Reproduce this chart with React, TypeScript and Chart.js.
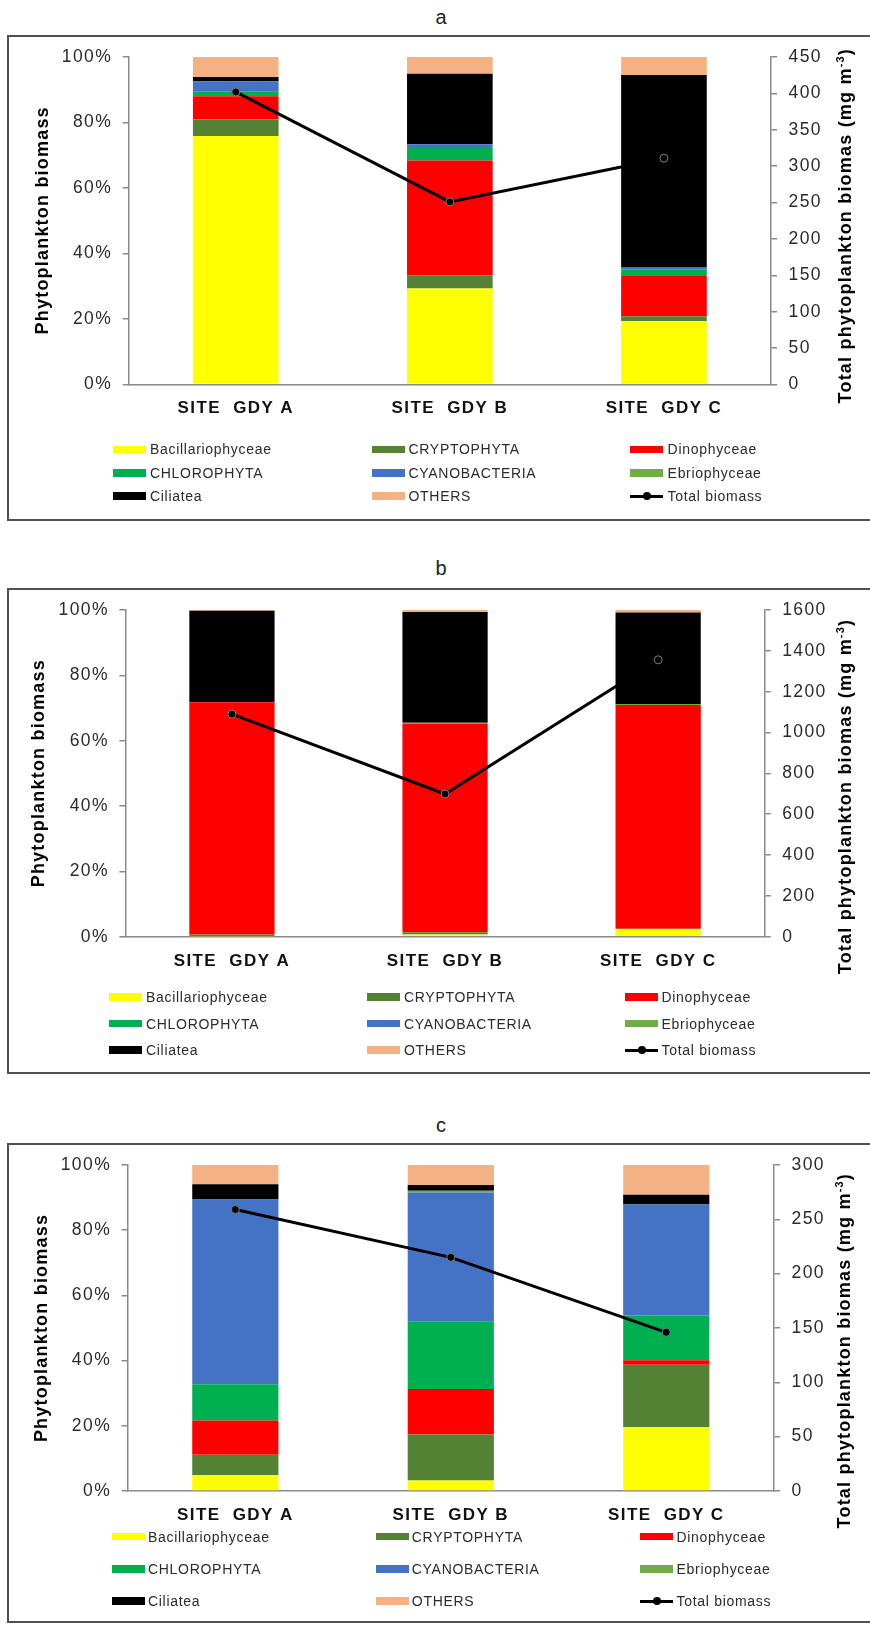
import React, { useEffect, useRef } from 'react';
import { Chart, registerables } from 'chart.js';

Chart.register(...registerables);

const FONT = '"Liberation Sans", Arial, Helvetica, sans-serif';

// ---------- shared labels ----------
const categories = ['SITE  GDY A', 'SITE  GDY B', 'SITE  GDY C'];
const seriesNames = ['Bacillariophyceae', 'CRYPTOPHYTA', 'Dinophyceae', 'CHLOROPHYTA', 'CYANOBACTERIA', 'Ebriophyceae', 'Ciliatea', 'OTHERS'];
const seriesColors = ['#FFFF00', '#548235', '#FF0000', '#00B050', '#4472C4', '#70AD47', '#000000', '#F4B183'];
const lineName = 'Total biomass';
const leftAxisTitle = 'Phytoplankton biomass';
const rightAxisTitleMain = 'Total phytoplankton biomas (mg m';
const rightAxisTitleSup = '-3';
const rightAxisTitleEnd = ')';
const percentMax = 100;
const percentStep = 20;

// ---------- panel a ----------
const a_Bacillariophyceae = [75.9, 29.3, 19.4];
const a_CRYPTOPHYTA = [5.0, 4.1, 1.5];
const a_Dinophyceae = [7.1, 35.0, 12.5];
const a_CHLOROPHYTA = [1.4, 3.8, 1.8];
const a_CYANOBACTERIA = [3.2, 1.2, 0.7];
const a_Ebriophyceae = [0.0, 0.0, 0.0];
const a_Ciliatea = [1.3, 21.5, 58.6];
const a_OTHERS = [6.1, 5.1, 5.5];
const a_Total = [402, 251, 311];
const a_rightMax = 450;
const a_rightStep = 50;

// ---------- panel b ----------
const b_Bacillariophyceae = [0.1, 0.7, 2.3];
const b_CRYPTOPHYTA = [0.6, 0.7, 0.1];
const b_Dinophyceae = [71.1, 63.8, 68.5];
const b_CHLOROPHYTA = [0.0, 0.0, 0.0];
const b_CYANOBACTERIA = [0.0, 0.0, 0.0];
const b_Ebriophyceae = [0.0, 0.3, 0.3];
const b_Ciliatea = [28.0, 33.9, 28.0];
const b_OTHERS = [0.2, 0.6, 0.8];
const b_Total = [1090, 699, 1356];
const b_rightMax = 1600;
const b_rightStep = 200;

// ---------- panel c ----------
const c_Bacillariophyceae = [4.8, 3.2, 19.5];
const c_CRYPTOPHYTA = [6.3, 14.1, 19.2];
const c_Dinophyceae = [10.5, 14.0, 1.4];
const c_CHLOROPHYTA = [11.1, 20.6, 13.7];
const c_CYANOBACTERIA = [56.7, 39.7, 34.1];
const c_Ebriophyceae = [0.0, 0.5, 0.0];
const c_Ciliatea = [4.7, 1.8, 3.0];
const c_OTHERS = [5.9, 6.1, 9.1];
const c_Total = [259, 215, 146];
const c_rightMax = 300;
const c_rightStep = 50;

type PanelData = { title: string; series: number[][]; totals: number[]; rightMax: number; rightStep: number };

const panelsData: PanelData[] = [
  { title: 'a', series: [a_Bacillariophyceae, a_CRYPTOPHYTA, a_Dinophyceae, a_CHLOROPHYTA, a_CYANOBACTERIA, a_Ebriophyceae, a_Ciliatea, a_OTHERS], totals: a_Total, rightMax: a_rightMax, rightStep: a_rightStep },
  { title: 'b', series: [b_Bacillariophyceae, b_CRYPTOPHYTA, b_Dinophyceae, b_CHLOROPHYTA, b_CYANOBACTERIA, b_Ebriophyceae, b_Ciliatea, b_OTHERS], totals: b_Total, rightMax: b_rightMax, rightStep: b_rightStep },
  { title: 'c', series: [c_Bacillariophyceae, c_CRYPTOPHYTA, c_Dinophyceae, c_CHLOROPHYTA, c_CYANOBACTERIA, c_Ebriophyceae, c_Ciliatea, c_OTHERS], totals: c_Total, rightMax: c_rightMax, rightStep: c_rightStep },
];

// ---------- layout (page pixels) ----------
type PanelLayout = {
  titleY: number; boxTop: number; boxBottom: number;
  plotTop: number; plotBottom: number; plotLeft: number; plotRight: number;
  leftTitle: [number, number]; rightTitle: [number, number];
  legendRows: number[]; swatchX: number[]; textX: number[];
};

const layouts: PanelLayout[] = [
  { titleY: 16.5, boxTop: 35, boxBottom: 521, plotTop: 56, plotBottom: 384.6, plotLeft: 128.7, plotRight: 771,
    leftTitle: [42.7, 220.3], rightTitle: [846, 225.7], legendRows: [449.4, 472.8, 496.2], swatchX: [112.6, 372, 630], textX: [150, 408.5, 667.6] },
  { titleY: 568, boxTop: 588, boxBottom: 1074, plotTop: 609.6, plotBottom: 936.7, plotLeft: 125.4, plotRight: 764.7,
    leftTitle: [38.8, 773.2], rightTitle: [846, 796.5], legendRows: [997, 1023.5, 1050], swatchX: [109, 367, 625], textX: [146, 404, 661.5] },
  { titleY: 1124.6, boxTop: 1143, boxBottom: 1623, plotTop: 1163.9, plotBottom: 1490.9, plotLeft: 127.6, plotRight: 774,
    leftTitle: [41.6, 1328], rightTitle: [845, 1350.7], legendRows: [1536.5, 1568.9, 1601.2], swatchX: [111.5, 375.7, 640], textX: [148, 411.8, 676.5] },
];

const PAGE_W = 870;
const AXIS_COLOR = '#8a8a8a';
const TEXT_COLOR = '#2b2b2b';

function PanelChart({ data, lay }: { data: PanelData; lay: PanelLayout }) {
  const ref = useRef<HTMLCanvasElement | null>(null);
  useEffect(() => {
    if (!ref.current) return;
    const titlesPlugin = {
      id: 'axisTitles',
      beforeLayout(chart: any) { chart.ctx.letterSpacing = '1.4px'; },
      beforeDraw(chart: any) { chart.ctx.letterSpacing = '1.4px'; },
      afterDraw(chart: any) {
        const ctx = chart.ctx;
        ctx.save();
        ctx.letterSpacing = '1.2px';
        ctx.fillStyle = '#000';
        ctx.font = `bold 18px ${FONT}`;
        ctx.translate(lay.leftTitle[0], lay.leftTitle[1] - lay.boxTop);
        ctx.rotate(-Math.PI / 2);
        ctx.textAlign = 'center';
        ctx.textBaseline = 'middle';
        ctx.fillText(leftAxisTitle, 0, 0);
        ctx.restore();

        ctx.save();
        ctx.letterSpacing = '1.2px';
        ctx.fillStyle = '#000';
        ctx.translate(lay.rightTitle[0], lay.rightTitle[1] - lay.boxTop);
        ctx.rotate(-Math.PI / 2);
        ctx.textAlign = 'left';
        ctx.textBaseline = 'middle';
        const mainFont = `bold 18px ${FONT}`;
        const supFont = `bold 11px ${FONT}`;
        ctx.font = mainFont;
        const w1 = ctx.measureText(rightAxisTitleMain).width;
        const w3 = ctx.measureText(rightAxisTitleEnd).width;
        ctx.font = supFont;
        const w2 = ctx.measureText(rightAxisTitleSup).width;
        let x = -(w1 + w2 + w3) / 2;
        ctx.font = mainFont;
        ctx.fillText(rightAxisTitleMain, x, 0);
        x += w1;
        ctx.font = supFont;
        ctx.fillText(rightAxisTitleSup, x, -5);
        x += w2;
        ctx.font = mainFont;
        ctx.fillText(rightAxisTitleEnd, x, 0);
        ctx.restore();
      },
    };

    const datasets: any[] = seriesNames.map((name, i) => ({
      type: 'bar',
      label: name,
      data: data.series[i],
      backgroundColor: seriesColors[i],
      borderWidth: 0,
      yAxisID: 'y',
      stack: 'biomass',
      order: 1,
      barPercentage: 0.4,
      categoryPercentage: 1.0,
    }));
    datasets.push({
      type: 'line',
      label: lineName,
      data: data.totals,
      yAxisID: 'y1',
      borderColor: '#000',
      borderWidth: 3,
      pointRadius: 4,
      pointBackgroundColor: '#000',
      pointBorderColor: '#808080',
      pointBorderWidth: 1,
      tension: 0,
      order: 0,
    });

    const chart = new Chart(ref.current, {
      type: 'bar',
      data: { labels: categories, datasets },
      options: {
        responsive: false,
        maintainAspectRatio: false,
        animation: false,
        layout: { padding: { top: lay.plotTop - lay.boxTop, left: 0, right: 0, bottom: 0 } },
        plugins: { legend: { display: false }, tooltip: { enabled: false }, title: { display: false } },
        scales: {
          x: {
            stacked: true,
            grid: { display: false, drawTicks: false },
            border: { display: true, color: AXIS_COLOR, width: 1.5 },
            ticks: { font: { family: FONT, size: 17, weight: 'bold' }, color: '#111', padding: 14, maxRotation: 0, autoSkip: false },
            afterFit: (s: any) => { s.height = lay.boxBottom - lay.plotBottom; },
          },
          y: {
            stacked: true,
            min: 0,
            max: percentMax,
            ticks: { stepSize: percentStep, callback: (v: any) => `${v}%`, font: { family: FONT, size: 17.5 }, color: TEXT_COLOR, padding: 10.5 },
            grid: { display: true, drawOnChartArea: false, drawTicks: true, tickLength: 6, color: AXIS_COLOR, lineWidth: 1.5 },
            border: { display: true, color: AXIS_COLOR, width: 1.5 },
            afterFit: (s: any) => { s.width = lay.plotLeft; },
          },
          y1: {
            position: 'right',
            min: 0,
            max: data.rightMax,
            ticks: { stepSize: data.rightStep, callback: (v: any) => String(v), font: { family: FONT, size: 17.5 }, color: TEXT_COLOR, padding: 11.5 },
            grid: { display: true, drawOnChartArea: false, drawTicks: true, tickLength: 6, color: AXIS_COLOR, lineWidth: 1.5 },
            border: { display: true, color: AXIS_COLOR, width: 1.5 },
            afterFit: (s: any) => { s.width = PAGE_W - lay.plotRight; },
          },
        },
      } as any,
      plugins: [titlesPlugin],
    });
    return () => chart.destroy();
  }, [data, lay]);

  return (
    <canvas
      ref={ref}
      width={PAGE_W}
      height={lay.boxBottom - lay.boxTop}
      style={{ position: 'absolute', left: 0, top: lay.boxTop, width: PAGE_W, height: lay.boxBottom - lay.boxTop }}
    />
  );
}

function Legend({ lay }: { lay: PanelLayout }) {
  const items: any[] = [];
  const names = [...seriesNames, lineName];
  names.forEach((name, idx) => {
    const row = Math.floor(idx / 3);
    const col = idx % 3;
    const cy = lay.legendRows[row];
    const sx = lay.swatchX[col];
    const tx = lay.textX[col];
    if (idx < seriesNames.length) {
      items.push(
        <div key={'s' + idx} style={{ position: 'absolute', left: sx, top: cy - 3.75, width: 33, height: 7.5, background: seriesColors[idx] }} />
      );
    } else {
      items.push(
        <div key={'l' + idx} style={{ position: 'absolute', left: sx, top: cy - 1.5, width: 33, height: 3, background: '#000' }} />
      );
      items.push(
        <div key={'d' + idx} style={{ position: 'absolute', left: sx + 16.5 - 4, top: cy - 4, width: 8, height: 8, borderRadius: '50%', background: '#000' }} />
      );
    }
    items.push(
      <div
        key={'t' + idx}
        style={{
          position: 'absolute', left: tx, top: cy - 8, height: 16, lineHeight: '16px',
          fontFamily: FONT, fontSize: 14, letterSpacing: '0.7px', color: TEXT_COLOR, whiteSpace: 'nowrap',
        }}
      >
        {name}
      </div>
    );
  });
  return <>{items}</>;
}

export default function App() {
  return (
    <div style={{ position: 'absolute', left: 0, top: 0, width: PAGE_W, height: 1626, overflow: 'hidden', background: '#fff' }}>
      {panelsData.map((d, i) => {
        const lay = layouts[i];
        return (
          <React.Fragment key={d.title}>
            <div
              style={{
                position: 'absolute', left: 391, width: 100, top: lay.titleY - 12, height: 24, lineHeight: '24px',
                textAlign: 'center', fontFamily: FONT, fontSize: 20, color: '#222',
              }}
            >
              {d.title}
            </div>
            <PanelChart data={d} lay={lay} />
            <div
              style={{
                position: 'absolute', left: 7, top: lay.boxTop, width: PAGE_W + 10, height: lay.boxBottom - lay.boxTop,
                border: '2px solid #505050', boxSizing: 'border-box', pointerEvents: 'none',
              }}
            />
            <Legend lay={lay} />
          </React.Fragment>
        );
      })}
    </div>
  );
}
